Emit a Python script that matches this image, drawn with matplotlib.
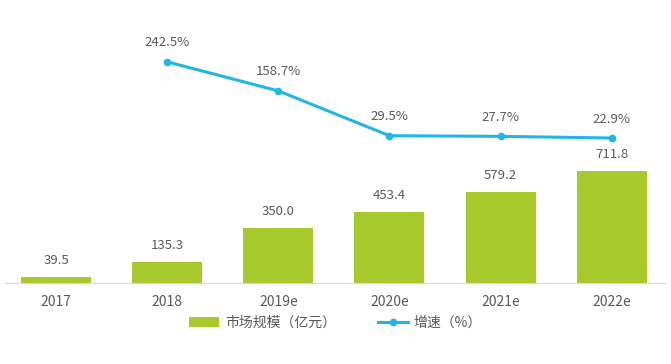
import matplotlib.pyplot as plt
import numpy as np

plt.rcParams['font.family'] = ['Noto Sans CJK SC', 'DejaVu Sans']

years = ['2017', '2018', '2019e', '2020e', '2021e', '2022e']
market = [39.5, 135.3, 350.0, 453.4, 579.2, 711.8]
growth_years = ['2018', '2019e', '2020e', '2021e', '2022e']
growth = [242.5, 158.7, 29.5, 27.7, 22.9]

green = '#a8c92b'
blue = '#22b6e6'
grey = '#595959'

x = np.arange(len(years))
gx = [years.index(y) for y in growth_years]

fig = plt.figure(figsize=(6.71, 3.64), dpi=100)
ax = fig.add_axes([5 / 671, 1 - 283 / 364, 660 / 671, 263 / 364])
ax.bar(x, market, width=0.63, color=green, label='市场规模（亿元）', zorder=2)
for xi, v in zip(x, market):
    ax.text(xi, v + 65, f'{v:.1f}', ha='center', va='bottom', fontsize=9.5, color=grey)
ax.set_ylim(0, 1675)
ax.set_xlim(-0.46, 5.48)
ax.set_xticks(x)
ax.set_xticklabels(years, fontsize=10, color=grey)
ax.tick_params(axis='x', length=0, pad=9)
ax.set_yticks([])
for s in ['top', 'right', 'left']:
    ax.spines[s].set_visible(False)
ax.spines['bottom'].set_color('#d9d9d9')

ax2 = ax.twinx()
ax2.plot(gx, growth, color=blue, lw=2.2, marker='o', ms=4.5, label='增速（%）', zorder=3)
for xi, v in zip(gx, growth):
    ax2.text(xi, v + 36, f'{v:.1f}%', ha='center', va='bottom', fontsize=9.5, color=grey)
ax2.set_ylim(-395, 363)
ax2.set_yticks([])
for s in ['top', 'right', 'left', 'bottom']:
    ax2.spines[s].set_visible(False)

h1, l1 = ax.get_legend_handles_labels()
h2, l2 = ax2.get_legend_handles_labels()
fig.legend(h1 + h2, l1 + l2, loc='center', bbox_to_anchor=(0.5, 1 - 323 / 364),
           ncol=2, frameon=False, fontsize=10, labelcolor=grey,
           handlelength=2.2, columnspacing=3.0, handletextpad=0.4)

fig.savefig('out.png', dpi=100)
